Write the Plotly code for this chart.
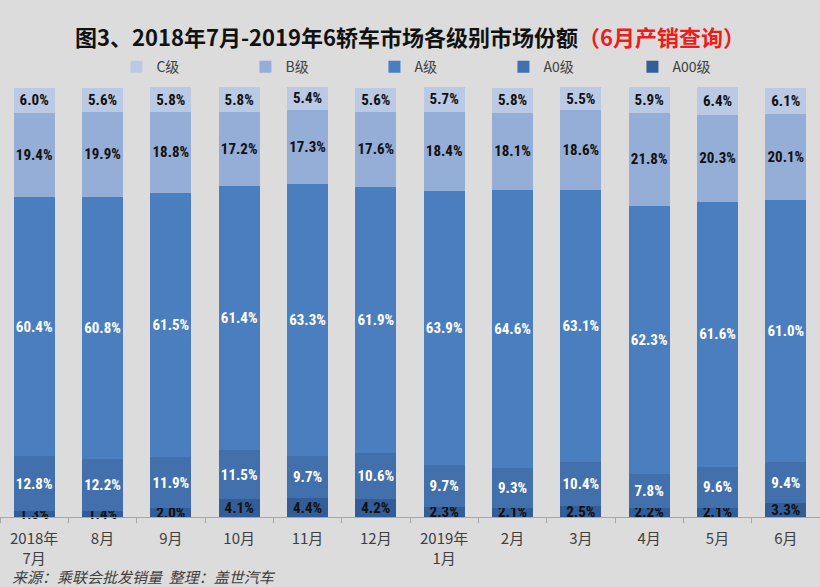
import plotly.graph_objects as go

months = ["2018年<br>7月", "8月", "9月", "10月", "11月", "12月",
          "2019年<br>1月", "2月", "3月", "4月", "5月", "6月"]
a00 = [1.3, 1.4, 2.0, 4.1, 4.4, 4.2, 2.3, 2.1, 2.5, 2.2, 2.1, 3.3]
a0 = [12.8, 12.2, 11.9, 11.5, 9.7, 10.6, 9.7, 9.3, 10.4, 7.8, 9.6, 9.4]
a = [60.4, 60.8, 61.5, 61.4, 63.3, 61.9, 63.9, 64.6, 63.1, 62.3, 61.6, 61.0]
b = [19.4, 19.9, 18.8, 17.2, 17.3, 17.6, 18.4, 18.1, 18.6, 21.8, 20.3, 20.1]
c = [6.0, 5.6, 5.8, 5.8, 5.4, 5.6, 5.7, 5.8, 5.5, 5.9, 6.4, 6.1]

series = [
    ("A00级", a00, "#335d97", "#111111"),
    ("A0级", a0, "#4170ad", "#ffffff"),
    ("A级", a, "#4a7ebf", "#ffffff"),
    ("B级", b, "#95aed7", "#111111"),
    ("C级", c, "#bacae5", "#111111"),
]

LABEL_FONT = "Liberation Sans Narrow, Roboto Condensed, Arial Narrow, Liberation Sans, sans-serif"
CJK = "Noto Sans CJK SC, sans-serif"

YMAX = 100.5
PX_PER_PCT = 4.3
BOTTOM = 70
TOP = 587 - BOTTOM - YMAX * PX_PER_PCT

fig = go.Figure()
for name, vals, color, tcolor in series:
    fig.add_trace(go.Bar(
        x=months, y=vals, name=name,
        marker=dict(color=color, line=dict(width=0)),
        text=[f"<b>{v:.1f}%</b>" for v in vals],
        textposition="inside", insidetextanchor="middle",
        textangle=0,
        textfont=dict(family=LABEL_FONT, size=15, color=tcolor),
        constraintext="none",
        cliponaxis=False,
        width=0.6,
    ))

plot_h = YMAX * PX_PER_PCT
fig.update_layout(
    width=820, height=587,
    barmode="stack",
    paper_bgcolor="#dcdcdc", plot_bgcolor="#dcdcdc",
    margin=dict(l=0, r=0, t=TOP, b=BOTTOM),
    uniformtext=dict(minsize=15, mode="show"),
    title=dict(
        text="<b>图3、2018年7月-2019年6轿车市场各级别市场份额<span style='color:#ee1c1c'>（6月产销查询）</span></b>",
        x=0.5, xanchor="center", y=1 - 38 / 587, yanchor="middle",
        font=dict(family=CJK, size=22, color="#111111"),
    ),
    legend=dict(
        orientation="h", traceorder="reversed",
        x=0.142, xanchor="left", y=(517 - 67) / plot_h, yanchor="middle",
        yref="paper",
        font=dict(family=CJK, size=14, color="#404040"),
        bgcolor="rgba(0,0,0,0)",
        entrywidth=84, entrywidthmode="pixels",
        itemwidth=30,
    ),
    showlegend=True,
    xaxis=dict(
        type="category",
        showline=True, linecolor="#a6a6a6", linewidth=1,
        ticks="outside", tickson="boundaries", ticklen=5, tickcolor="#a6a6a6",
        ticklabelstandoff=8,
        tickfont=dict(family=CJK, size=15, color="#404040"),
        showgrid=False,
    ),
    yaxis=dict(range=[0, YMAX], visible=False, showgrid=False),
    annotations=[dict(
        text="<i>来源：乘联会批发销量  整理：盖世汽车</i>",
        xref="paper", yref="paper", x=0.0, y=-(576.5 - 517) / plot_h,
        xanchor="left", yanchor="middle", showarrow=False,
        xshift=10,
        font=dict(family=CJK, size=15, color="#404040"),
    )],
)

fig.write_html(
    "out.html",
    config={"displayModeBar": False},
    post_script="document.body.style.margin='0';document.body.style.overflow='hidden';",
)
